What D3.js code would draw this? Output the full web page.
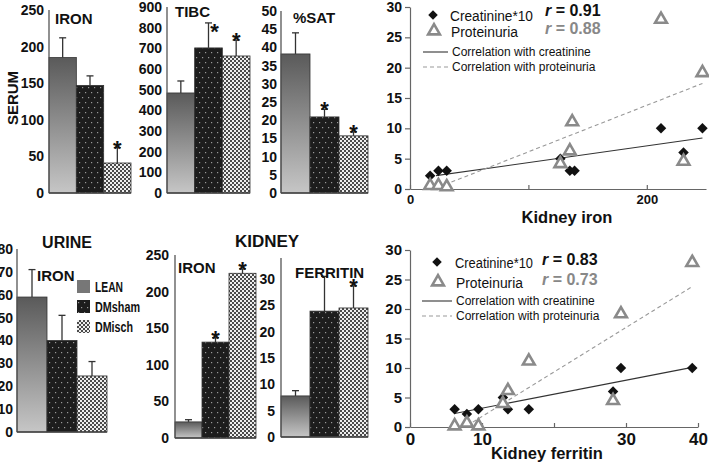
<!DOCTYPE html>
<html>
<head>
<meta charset="utf-8">
<script src="https://cdn.jsdelivr.net/npm/d3@7"></script>
<style>
  body { margin: 0; background: #fff; }
  svg { display: block; }
  text { font-family: "Liberation Sans", Arial, sans-serif; fill: #111; }
</style>
</head>
<body>
<svg id="fig" width="709" height="466"></svg>
<script>
// ---- data ----
var groups = ["LEAN", "DMsham", "DMisch"];

// serum
var serumIron = [185, 147, 41];
var serumIronErr = [27, 13, 21];
var serumIronStar = [0, 0, 1];
var tibc = [484, 702, 663];
var tibcErr = [58, 121, 77];
var tibcStar = [0, 1, 1];
var satPct = [38.2, 20.9, 15.7];
var satPctErr = [5.8, 2.1, 1.1];
var satPctStar = [0, 1, 1];

// urine + kidney
var urineIron = [59, 40, 24.5];
var urineIronErr = [12, 11, 6.3];
var urineIronStar = [0, 0, 0];
var kidneyIron = [22, 131, 225];
var kidneyIronErr = [3, 6, 6];
var kidneyIronStar = [0, 1, 1];
var kidneyFerritin = [7.8, 23.9, 24.5];
var kidneyFerritinErr = [1, 6.6, 4.2];
var kidneyFerritinStar = [0, 0, 1];

// scatter: kidney iron
var ironX = [17, 24, 31, 127, 135, 139, 212, 231, 247];
var ironCreat = [2.2, 3, 3, 5, 3, 3, 10, 6, 10];
var ironProtX = [17, 24, 31, 127, 135, 137, 212, 231, 247];
var ironProt = [0.4, 0.4, 0.2, 4, 6.1, 10.9, 27.8, 4.4, 19];
var ironCreatFit = [[22, 2.2], [247, 8.4]];
var ironProtFit = [[24, 0.3], [247, 17.4]];

// scatter: kidney ferritin
var ferrX = [6.2, 7.9, 9.5, 12.9, 13.6, 16.5, 28.2, 29.3, 39.2];
var ferrCreat = [3, 2.2, 3, 5, 3, 3, 6, 10, 10];
var ferrProt = [0, 0.5, 0, 3.8, 6, 11, 4.3, 19, 27.7];
var ferrCreatFit = [[6.2, 2.3], [39.2, 10.1]];
var ferrProtFit = [[7.9, 0.2], [39.2, 23.8]];

var svg = d3.select("#fig");

// ---- fills ----
var defs = svg.append("defs");
var grad = defs.append("linearGradient").attr("id", "gLean")
    .attr("x1", 0).attr("y1", 0).attr("x2", 0).attr("y2", 1);
grad.append("stop").attr("offset", "0%").attr("stop-color", "#5a5a5a");
grad.append("stop").attr("offset", "100%").attr("stop-color", "#c6c6c6");

var pSham = defs.append("pattern").attr("id", "pSham")
    .attr("patternUnits", "userSpaceOnUse").attr("width", 6).attr("height", 10);
pSham.append("rect").attr("width", 6).attr("height", 10).attr("fill", "#1d1d1d");
pSham.append("rect").attr("x", 1).attr("y", 2).attr("width", 1.2).attr("height", 1.2).attr("fill", "#9a9a9a");
pSham.append("rect").attr("x", 4).attr("y", 7).attr("width", 1.2).attr("height", 1.2).attr("fill", "#9a9a9a");

var pIsch = defs.append("pattern").attr("id", "pIsch")
    .attr("patternUnits", "userSpaceOnUse").attr("width", 4).attr("height", 4);
pIsch.append("rect").attr("width", 4).attr("height", 4).attr("fill", "#4a4a4a");
pIsch.append("rect").attr("width", 2).attr("height", 2).attr("fill", "#eeeeee");
pIsch.append("rect").attr("x", 2).attr("y", 2).attr("width", 2).attr("height", 2).attr("fill", "#eeeeee");

var fills = ["url(#gLean)", "url(#pSham)", "url(#pIsch)"];

// ---- bar panels ----
function barPanel(cfg) {
  var g = svg.append("g");
  var y = d3.scaleLinear().domain([0, cfg.max]).range([cfg.y0, cfg.yTop]);
  var x = d3.scaleBand().domain(groups).range([cfg.x0, cfg.x1]);

  var ax = g.append("g")
      .attr("transform", "translate(" + cfg.x0 + ",0)")
      .call(d3.axisLeft(y).tickValues(d3.range(0, cfg.max + cfg.step / 2, cfg.step))
        .tickSize(0).tickPadding(cfg.pad));
  ax.select(".domain").remove();
  ax.selectAll("text")
      .style("font-size", "14px").style("font-weight", "bold").style("fill", "#111");

  var rows = groups.map(function(k, i) {
    return { key: k, v: cfg.vals[i], e: cfg.err[i], s: cfg.star[i], f: fills[i] };
  });

  g.selectAll("rect.bar").data(rows).enter().append("rect")
      .attr("class", "bar")
      .attr("x", function(d) { return x(d.key); })
      .attr("y", function(d) { return y(d.v); })
      .attr("width", x.bandwidth())
      .attr("height", function(d) { return cfg.y0 - y(d.v); })
      .attr("fill", function(d) { return d.f; })
      .attr("stroke", "#333").attr("stroke-width", 0.8);

  // error bars, upward only
  var eb = g.selectAll("g.eb").data(rows).enter().append("g")
      .attr("stroke", "#333").attr("stroke-width", 1.3);
  eb.append("line")
      .attr("x1", function(d) { return x(d.key) + x.bandwidth() / 2; })
      .attr("x2", function(d) { return x(d.key) + x.bandwidth() / 2; })
      .attr("y1", function(d) { return y(d.v); })
      .attr("y2", function(d) { return y(d.v + d.e); });
  eb.append("line")
      .attr("x1", function(d) { return x(d.key) + x.bandwidth() / 2 - 3.5; })
      .attr("x2", function(d) { return x(d.key) + x.bandwidth() / 2 + 3.5; })
      .attr("y1", function(d) { return y(d.v + d.e); })
      .attr("y2", function(d) { return y(d.v + d.e); });

  // significance stars (TIBC sham star sits beside its error cap)
  g.selectAll("text.star").data(rows.filter(function(d) { return d.s; })).enter().append("text")
      .attr("class", "star")
      .attr("x", function(d) { return x(d.key) + x.bandwidth() / 2 + (cfg.starDx && d.key == "DMsham" ? 6 : 0); })
      .attr("y", function(d) {
        return y(d.v + d.e) + (cfg.starDx && d.key == "DMsham" ? 16 : 8);
      })
      .attr("text-anchor", "middle")
      .style("font-size", "22px").style("font-weight", "bold")
      .text("*");

  // axis line + base line
  g.append("line").attr("x1", cfg.x0).attr("x2", cfg.x0)
      .attr("y1", cfg.y0).attr("y2", cfg.axisTop)
      .attr("stroke", "#555").attr("stroke-width", 1.3);
  g.append("line").attr("x1", cfg.x0).attr("x2", cfg.x1)
      .attr("y1", cfg.y0).attr("y2", cfg.y0)
      .attr("stroke", "#444").attr("stroke-width", 1.3);

  g.append("text").attr("x", cfg.tx).attr("y", cfg.ty)
      .style("font-size", "15px").style("font-weight", "bold")
      .text(cfg.title);
}

barPanel({ vals: serumIron, err: serumIronErr, star: serumIronStar, max: 250, step: 50,
  x0: 49, x1: 131, y0: 193, yTop: 10, axisTop: 10, pad: 5, title: "IRON", tx: 55, ty: 24 });
barPanel({ vals: tibc, err: tibcErr, star: tibcStar, max: 900, step: 100, starDx: true,
  x0: 167, x1: 250, y0: 193, yTop: 7, axisTop: 7, pad: 5, title: "TIBC", tx: 175, ty: 17 });
barPanel({ vals: satPct, err: satPctErr, star: satPctStar, max: 50, step: 5,
  x0: 281, x1: 368, y0: 193, yTop: 11, axisTop: 11, pad: 4, title: "%SAT", tx: 293, ty: 23 });
barPanel({ vals: urineIron, err: urineIronErr, star: urineIronStar, max: 80, step: 10,
  x0: 17, x1: 107, y0: 432, yTop: 249, axisTop: 249, pad: 4, title: "IRON", tx: 37, ty: 281 });
barPanel({ vals: kidneyIron, err: kidneyIronErr, star: kidneyIronStar, max: 250, step: 50,
  x0: 175, x1: 256, y0: 438, yTop: 255, axisTop: 255, pad: 6, title: "IRON", tx: 178, ty: 273 });
barPanel({ vals: kidneyFerritin, err: kidneyFerritinErr, star: kidneyFerritinStar, max: 30, step: 5,
  x0: 281, x1: 368, y0: 437, yTop: 279, axisTop: 258, pad: 6, title: "FERRITIN", tx: 295, ty: 278 });

// panel headings
svg.append("text").attr("transform", "translate(18,98) rotate(-90)")
    .attr("text-anchor", "middle")
    .style("font-size", "15px").style("font-weight", "bold").text("SERUM");
svg.append("text").attr("x", 67).attr("y", 248).attr("text-anchor", "middle")
    .style("font-size", "16px").style("font-weight", "bold").text("URINE");
svg.append("text").attr("x", 267).attr("y", 247).attr("text-anchor", "middle")
    .style("font-size", "17px").style("font-weight", "bold").text("KIDNEY");

// group legend (condensed lettering in the original)
var legW = [28, 45, 38];
var leg = svg.append("g").attr("transform", "translate(77,280)");
groups.forEach(function(k, i) {
  leg.append("rect").attr("x", 0).attr("y", i * 20).attr("width", 13).attr("height", 13)
      .attr("fill", i == 0 ? "#777" : fills[i]);
  leg.append("text").attr("x", 18).attr("y", i * 20 + 12)
      .attr("textLength", legW[i]).attr("lengthAdjust", "spacingAndGlyphs")
      .style("font-size", "14px").style("font-weight", "bold")
      .text(k);
});

// ---- scatter panels ----
function scatterPanel(cfg) {
  var g = svg.append("g");
  var x = d3.scaleLinear().domain(cfg.xDomain).range([410, cfg.xRight]);
  var y = d3.scaleLinear().domain([0, 30]).range([cfg.y0, cfg.y30]);

  var ya = g.append("g").attr("transform", "translate(410,0)")
      .call(d3.axisLeft(y).tickValues(d3.range(0, 31, 5)).tickSizeInner(5).tickSizeOuter(0).tickPadding(3));
  ya.selectAll("text").style("font-size", cfg.yFont).style("font-weight", "bold").style("fill", "#111");

  var xa = g.append("g").attr("transform", "translate(0," + cfg.y0 + ")")
      .call(d3.axisBottom(x).tickValues(cfg.xTicks).tickSizeInner(-4).tickSizeOuter(0).tickPadding(cfg.xPad)
        .tickFormat(function(d) { return cfg.xLabels.indexOf(d) >= 0 ? d : ""; }));
  xa.selectAll("text").style("font-size", cfg.xFont).style("font-weight", "bold").style("fill", "#111");

  g.selectAll(".domain, .tick line").attr("stroke", "#666").attr("stroke-width", 1.2);

  var line = d3.line().x(function(d) { return x(d[0]); }).y(function(d) { return y(d[1]); });
  g.append("path").attr("d", line(cfg.creatFit)).attr("fill", "none")
      .attr("stroke", "#333").attr("stroke-width", 1.1);
  g.append("path").attr("d", line(cfg.protFit)).attr("fill", "none")
      .attr("stroke", "#999").attr("stroke-width", 1.1).attr("stroke-dasharray", "4,3");

  var diam = d3.symbol().type(d3.symbolSquare).size(55);
  var tri = d3.symbol().type(d3.symbolTriangle).size(60);

  g.selectAll("path.cr").data(cfg.creat).enter().append("path")
      .attr("class", "cr")
      .attr("d", diam)
      .attr("transform", function(d, i) { return "translate(" + x(cfg.cx[i]) + "," + y(d) + ") rotate(45)"; })
      .attr("fill", "#111");
  g.selectAll("path.pr").data(cfg.prot).enter().append("path")
      .attr("class", "pr")
      .attr("d", tri)
      .attr("transform", function(d, i) { return "translate(" + x(cfg.px[i]) + "," + (y(d) - 1) + ")"; })
      .attr("fill", "#fff").attr("stroke", "#8a8a8a").attr("stroke-width", 2.6);

  // legend
  var L = cfg.leg;
  g.append("path").attr("d", d3.symbol().type(d3.symbolSquare).size(45))
      .attr("transform", "translate(" + L.mx + "," + L.y1 + ") rotate(45)").attr("fill", "#111");
  g.append("path").attr("d", tri)
      .attr("transform", "translate(" + (L.mx + 1) + "," + (L.y2 - 1) + ")")
      .attr("fill", "#fff").attr("stroke", "#8a8a8a").attr("stroke-width", 2.6);
  g.append("text").attr("x", L.tx).attr("y", L.y1 + 6)
      .attr("textLength", L.w1).attr("lengthAdjust", "spacingAndGlyphs")
      .style("font-size", "15.5px").text("Creatinine*10");
  g.append("text").attr("x", L.tx + 1).attr("y", L.y2 + 5)
      .attr("textLength", L.w2).attr("lengthAdjust", "spacingAndGlyphs")
      .style("font-size", "15.5px").text("Proteinuria");

  var r1 = g.append("text").attr("x", L.rx).attr("y", L.r1y)
      .style("font-size", "16px").style("font-weight", "bold");
  r1.append("tspan").style("font-style", "italic").text("r");
  r1.append("tspan").text(" = " + cfg.r[0]);
  var r2 = g.append("text").attr("x", L.rx).attr("y", L.r2y)
      .style("font-size", "16px").style("font-weight", "bold").style("fill", "#888");
  r2.append("tspan").style("font-style", "italic").text("r");
  r2.append("tspan").text(" = " + cfg.r[1]);

  g.append("line").attr("x1", L.lx0).attr("x2", L.lx1).attr("y1", L.l1).attr("y2", L.l1)
      .attr("stroke", "#333").attr("stroke-width", 1.1);
  g.append("line").attr("x1", L.lx0).attr("x2", L.lx1).attr("y1", L.l2).attr("y2", L.l2)
      .attr("stroke", "#999").attr("stroke-width", 1.1).attr("stroke-dasharray", "4,3");
  g.append("text").attr("x", L.lx1 + 4).attr("y", L.l1 + 4).style("font-size", "12px")
      .text("Correlation with creatinine");
  g.append("text").attr("x", L.lx1 + 4).attr("y", L.l2 + 4).style("font-size", "12px")
      .text("Correlation with proteinuria");

  g.append("text").attr("x", cfg.titleX).attr("y", cfg.titleY).attr("text-anchor", "middle")
      .style("font-size", "16.5px").style("font-weight", "bold").text(cfg.title);
}

scatterPanel({
  xDomain: [0, 250], xRight: 706, y0: 189, y30: 7,
  xTicks: [0, 100, 200], xLabels: [0, 200], xFont: "13px", yFont: "14px", xPad: 6,
  cx: ironX, creat: ironCreat, px: ironProtX, prot: ironProt,
  creatFit: ironCreatFit, protFit: ironProtFit, r: ["0.91", "0.88"],
  leg: { mx: 433, tx: 450, y1: 15, y2: 32, w1: 83, w2: 67, rx: 545, r1y: 16, r2y: 34,
         lx0: 423, lx1: 448, l1: 52, l2: 67 },
  title: "Kidney iron", titleX: 567, titleY: 223
});

scatterPanel({
  xDomain: [0, 40], xRight: 698, y0: 427, y30: 250,
  xTicks: [0, 10, 20, 30, 40], xLabels: [0, 10, 30, 40], xFont: "17px", yFont: "15px", xPad: 6,
  cx: ferrX, creat: ferrCreat, px: ferrX, prot: ferrProt,
  creatFit: ferrCreatFit, protFit: ferrProtFit, r: ["0.83", "0.73"],
  leg: { mx: 437, tx: 455, y1: 262, y2: 283, w1: 78, w2: 67, rx: 542, r1y: 265, r2y: 285,
         lx0: 422, lx1: 452, l1: 301, l2: 316 },
  title: "Kidney ferritin", titleX: 547, titleY: 459
});
</script>
</body>
</html>
